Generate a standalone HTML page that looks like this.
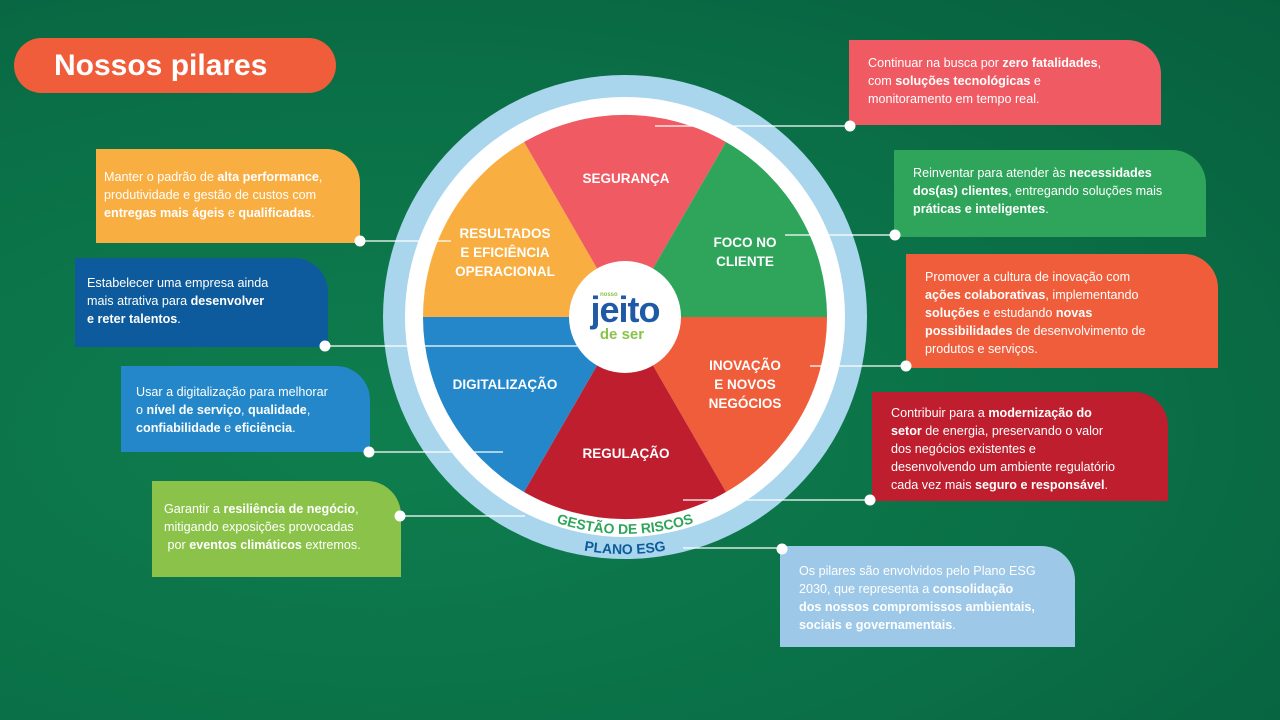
<!DOCTYPE html>
<html><head><meta charset="utf-8"><style>
body{margin:0;width:1280px;height:720px;overflow:hidden;font-family:"Liberation Sans",sans-serif;}
#bg{position:absolute;left:0;top:0;width:1280px;height:720px;background:radial-gradient(ellipse at 30% 60%,#0f7e4e 0%,#0a7047 55%,#075f3e 100%);}
.card{position:absolute;color:#fff;font-size:12.6px;line-height:18px;border-top-right-radius:34px;box-sizing:border-box;padding:14px 0 0 19px;}
.card b{font-weight:bold;}
#title{position:absolute;left:14px;top:38px;width:322px;height:55px;border-radius:28px;background:#f05d3a;color:#fff;font-weight:bold;font-size:30px;line-height:55px;padding-left:40px;box-sizing:border-box;}
svg{position:absolute;left:0;top:0;}
</style></head><body>
<div id="bg"></div>
<div id="title">Nossos pilares</div>

<div class="card" style="left:849px;top:40px;width:312px;height:85px;background:#f05a63;">Continuar na busca por <b>zero fatalidades</b>,<br>com <b>soluções tecnológicas</b> e<br>monitoramento em tempo real.</div>
<div class="card" style="left:894px;top:150px;width:312px;height:87px;background:#2ea55a;padding-top:14px;">Reinventar para atender às <b>necessidades<br>dos(as) clientes</b>, entregando soluções mais<br><b>práticas e inteligentes</b>.</div>
<div class="card" style="left:906px;top:254px;width:312px;height:114px;background:#f05d3a;padding-top:14px;">Promover a cultura de inovação com<br><b>ações colaborativas</b>, implementando<br><b>soluções</b> e estudando <b>novas<br>possibilidades</b> de desenvolvimento de<br>produtos e serviços.</div>
<div class="card" style="left:872px;top:392px;width:296px;height:109px;background:#be1e2d;padding-top:12px;">Contribuir para a <b>modernização do<br>setor</b> de energia, preservando o valor<br>dos negócios existentes e<br>desenvolvendo um ambiente regulatório<br>cada vez mais <b>seguro e responsável</b>.</div>
<div class="card" style="left:780px;top:546px;width:295px;height:101px;background:#9dc8e8;padding-top:16px;">Os pilares são envolvidos pelo Plano ESG<br>2030, que representa a <b>consolidação<br>dos nossos compromissos ambientais,<br>sociais e governamentais</b>.</div>

<div class="card" style="left:96px;top:149px;width:264px;height:94px;background:#f9ae42;padding:19px 0 0 8px;">Manter o padrão de <b>alta performance</b>,<br>produtividade e gestão de custos com<br><b>entregas mais ágeis</b> e <b>qualificadas</b>.</div>
<div class="card" style="left:75px;top:258px;width:253px;height:89px;background:#0d5b9c;padding:16px 0 0 12px;">Estabelecer uma empresa ainda<br>mais atrativa para <b>desenvolver<br>e reter talentos</b>.</div>
<div class="card" style="left:121px;top:366px;width:249px;height:86px;background:#2387c9;padding:17px 0 0 15px;">Usar a digitalização para melhorar<br>o <b>nível de serviço</b>, <b>qualidade</b>,<br><b>confiabilidade</b> e <b>eficiência</b>.</div>
<div class="card" style="left:152px;top:481px;width:249px;height:96px;background:#8bc34a;padding:19px 0 0 12px;">Garantir a <b>resiliência de negócio</b>,<br>mitigando exposições provocadas<br>&nbsp;por <b>eventos climáticos</b> extremos.</div>

<svg width="1280" height="720" viewBox="0 0 1280 720">
<defs>
<path id="g1" d="M 438 427 A 217 217 0 0 0 812 427" fill="none"/>
<path id="p1" d="M 420 435 A 236 236 0 0 0 830 435" fill="none"/>
</defs>
<circle cx="625" cy="317" r="242" fill="#a9d6ec"/>
<circle cx="625" cy="317" r="220" fill="#fff"/>
<path d="M625 317 L524 142 A202 202 0 0 1 726 142 Z" fill="#f05a63"/>
<path d="M625 317 L726 142 A202 202 0 0 1 827 317 Z" fill="#2ea55a"/>
<path d="M625 317 L827 317 A202 202 0 0 1 726 492 Z" fill="#f05d3a"/>
<path d="M625 317 L726 492 A202 202 0 0 1 524 492 Z" fill="#be1e2d"/>
<path d="M625 317 L524 492 A202 202 0 0 1 423 317 Z" fill="#2387c9"/>
<path d="M625 317 L423 317 A202 202 0 0 1 524 142 Z" fill="#f9ae42"/>
<circle cx="625" cy="317" r="56" fill="#fff"/>
<text x="600" y="296" font-size="6" fill="#8bc34a" font-weight="bold" font-family="Liberation Sans">nosso</text>
<text x="625" y="322" font-size="36" fill="#1e5aa5" font-weight="bold" text-anchor="middle" font-family="Liberation Sans" letter-spacing="-1">jeito</text>
<text x="622" y="339" font-size="15" fill="#8bc34a" font-weight="bold" text-anchor="middle" font-family="Liberation Sans">de ser</text>
<g fill="#fff" font-weight="bold" font-size="13.5" text-anchor="middle" font-family="Liberation Sans">
<text x="626" y="183">SEGURANÇA</text>
<text x="745" y="247">FOCO NO</text><text x="745" y="266">CLIENTE</text>
<text x="745" y="370">INOVAÇÃO</text><text x="745" y="389">E NOVOS</text><text x="745" y="408">NEGÓCIOS</text>
<text x="626" y="458">REGULAÇÃO</text>
<text x="505" y="389">DIGITALIZAÇÃO</text>
<text x="505" y="238">RESULTADOS</text><text x="505" y="257">E EFICIÊNCIA</text><text x="505" y="276">OPERACIONAL</text>
</g>
<text font-size="14" font-weight="bold" fill="#2ea55a" font-family="Liberation Sans"><textPath href="#g1" startOffset="50%" text-anchor="middle">GESTÃO DE RISCOS</textPath></text>
<text font-size="14" font-weight="bold" fill="#0d5b9c" font-family="Liberation Sans"><textPath href="#p1" startOffset="50%" text-anchor="middle">PLANO ESG</textPath></text>
<g stroke="#fff" stroke-width="1.3">
<line x1="655" y1="126" x2="850" y2="126"/>
<line x1="785" y1="235" x2="895" y2="235"/>
<line x1="810" y1="366" x2="906" y2="366"/>
<line x1="683" y1="500" x2="870" y2="500"/>
<line x1="683" y1="548" x2="782" y2="548"/>
<line x1="360" y1="241" x2="451" y2="241"/>
<line x1="325" y1="346" x2="578" y2="346"/>
<line x1="369" y1="452" x2="503" y2="452"/>
<line x1="400" y1="516" x2="525" y2="516"/>
</g>
<g fill="#fff">
<circle cx="850" cy="126" r="5.5"/><circle cx="895" cy="235" r="5.5"/><circle cx="906" cy="366" r="5.5"/><circle cx="870" cy="500" r="5.5"/><circle cx="782" cy="549" r="5.5"/>
<circle cx="360" cy="241" r="5.5"/><circle cx="325" cy="346" r="5.5"/><circle cx="369" cy="452" r="5.5"/><circle cx="400" cy="516" r="5.5"/>
</g>
</svg>
</body></html>
